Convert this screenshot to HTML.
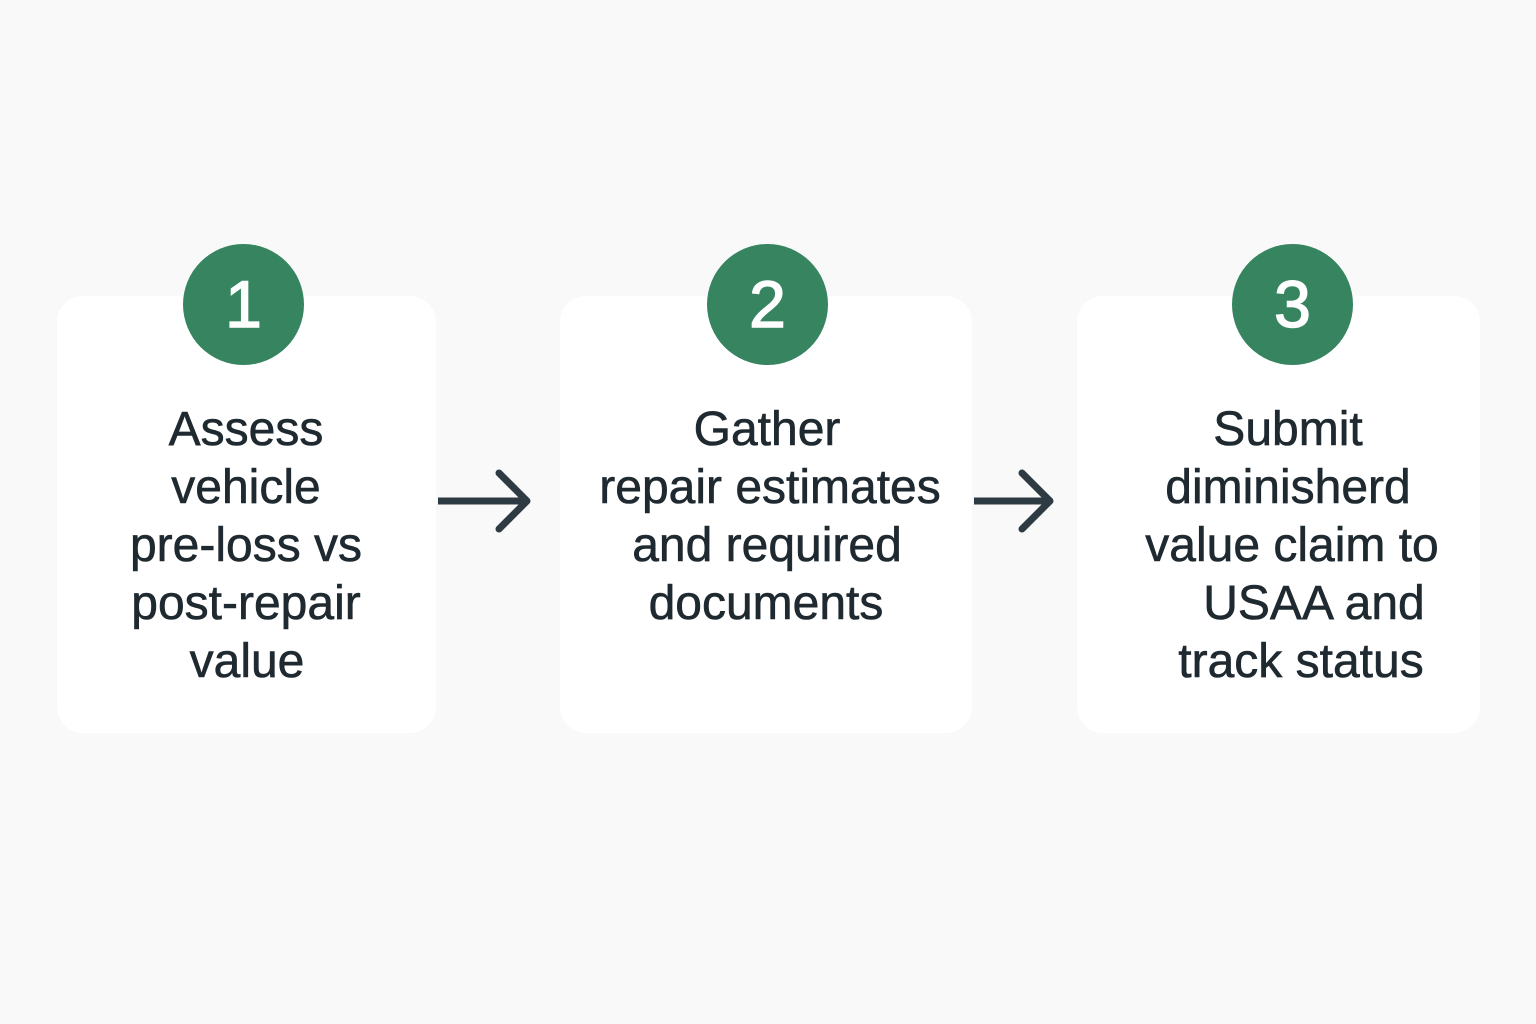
<!DOCTYPE html>
<html><head><style>
body{margin:0;width:1536px;height:1024px;background:#f9f9f9;position:relative;overflow:hidden;font-family:"Liberation Sans",sans-serif;}
.card{position:absolute;background:#fff;border-radius:26px;top:296px;height:437px;}
.c{position:absolute;width:121px;height:121px;border-radius:50%;background:#368560;color:#fff;font-size:66px;line-height:121px;text-align:center;top:244px;-webkit-text-stroke:1.5px #fff;}
.t{position:absolute;width:500px;margin-left:-250px;text-align:center;font-size:48px;color:#1f2930;line-height:58px;white-space:nowrap;-webkit-text-stroke:0.6px #1f2930;}
</style></head><body>
<div class="card" style="left:57px;width:379px"></div>
<div class="card" style="left:560px;width:412px"></div>
<div class="card" style="left:1077px;width:403px"></div>
<div class="c" style="left:183px">1</div>
<div class="c" style="left:707px">2</div>
<div class="c" style="left:1232px">3</div>
<div class="t" style="left:246px;top:401px">Assess</div>
<div class="t" style="left:246px;top:459px">vehicle</div>
<div class="t" style="left:246px;top:517px">pre-loss vs</div>
<div class="t" style="left:246px;top:575px">post-repair</div>
<div class="t" style="left:247px;top:633px">value</div>
<div class="t" style="left:767px;top:401px">Gather</div>
<div class="t" style="left:770px;top:459px">repair estimates</div>
<div class="t" style="left:767px;top:517px">and required</div>
<div class="t" style="left:766px;top:575px">documents</div>
<div class="t" style="left:1288px;top:401px">Submit</div>
<div class="t" style="left:1288px;top:459px">diminisherd</div>
<div class="t" style="left:1292px;top:517px">value claim to</div>
<div class="t" style="left:1314px;top:575px">USAA and</div>
<div class="t" style="left:1301px;top:633px">track status</div>
<svg width="1536" height="1024" style="position:absolute;left:0;top:0">
<g stroke="#2e3b43" stroke-width="7" fill="none" stroke-linecap="round" stroke-linejoin="round">
<line x1="438" y1="501" x2="526" y2="501" stroke-linecap="butt"/>
<polyline points="499,473 527,501 499,529"/>
<line x1="974" y1="501" x2="1050" y2="501" stroke-linecap="butt"/>
<polyline points="1022,473 1050,501 1022,529"/>
</g></svg>
</body></html>
